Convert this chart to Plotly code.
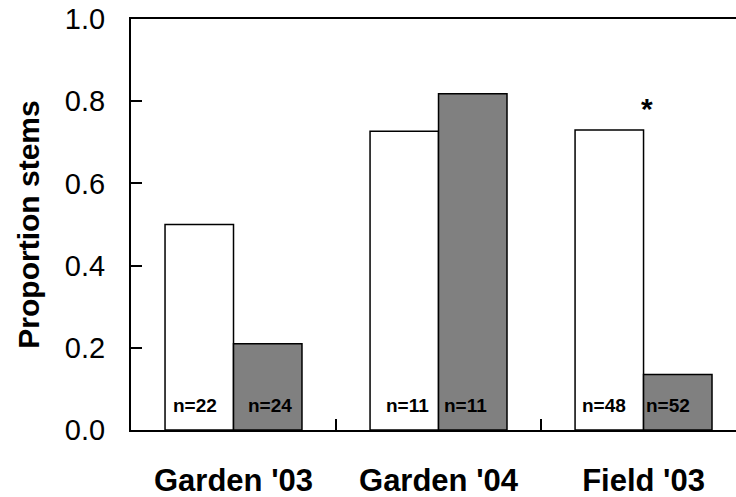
import plotly.graph_objects as go

# Proportion of stems per site/year, two groups per site
sites = ["Garden '03", "Garden '04", "Field '03"]
open_vals = [0.50, 0.727, 0.73]
filled_vals = [0.21, 0.818, 0.135]
open_n = ["n=22", "n=11", "n=48"]
filled_n = ["n=24", "n=11", "n=52"]
y_ticks = [0.0, 0.2, 0.4, 0.6, 0.8, 1.0]
signif_site = 2  # site marked with an asterisk

# horizontal pixel offsets of the sample-size labels from each site centre
open_n_shift = [-39, -31, -40]
filled_n_shift = [36, 27, 24]

FONT = "Liberation Sans, Arial, sans-serif"
idx = list(range(len(sites)))

fig = go.Figure()
fig.add_bar(x=idx, y=open_vals, marker=dict(color="white", line=dict(color="black", width=1.5)),
            showlegend=False, hoverinfo="skip")
fig.add_bar(x=idx, y=filled_vals, marker=dict(color="#808080", line=dict(color="black", width=1.5)),
            showlegend=False, hoverinfo="skip")

# sample-size labels at the foot of each bar
for i in idx:
    fig.add_annotation(x=i, y=0, text=f"<b>{open_n[i]}</b>", showarrow=False, xshift=open_n_shift[i],
                       yanchor="bottom", yshift=12, font=dict(family=FONT, size=19, color="black"))
    fig.add_annotation(x=i, y=0, text=f"<b>{filled_n[i]}</b>", showarrow=False, xshift=filled_n_shift[i],
                       yanchor="bottom", yshift=12, font=dict(family=FONT, size=19, color="black"))

fig.add_annotation(x=signif_site, y=open_vals[signif_site], text="<b>*</b>", showarrow=False,
                   xshift=3, yanchor="bottom", yshift=3, font=dict(family=FONT, size=30, color="black"))

fig.update_layout(
    width=736, height=497,
    margin=dict(l=131, r=0, t=19, b=67),
    plot_bgcolor="white", paper_bgcolor="white",
    barmode="group", bargap=0.332, bargroupgap=0,
    font=dict(family=FONT, color="black"),
)
fig.update_xaxes(
    range=[-0.5, 2.451], tickvals=idx, ticktext=[f"<b>{s}</b>" for s in sites],
    ticks="", tickfont=dict(size=31), ticklabelstandoff=22, automargin=False,
    showline=True, linecolor="black", linewidth=2, mirror=True,
    showgrid=False, zeroline=False,
    minor=dict(tickvals=[0.5, 1.5], ticks="inside", ticklen=11, tickcolor="black", tickwidth=1.5),
)
fig.update_yaxes(
    range=[0, 1], tickvals=y_ticks, tickformat=".1f", automargin=False,
    ticks="inside", ticklen=11, tickcolor="black", tickwidth=1.5,
    tickfont=dict(size=29), ticklabelstandoff=18,
    showline=True, linecolor="black", linewidth=2,
    showgrid=False, zeroline=False,
    title=dict(text="<b>Proportion stems</b>", font=dict(size=30), standoff=16),
)

fig.write_html("out.html")
